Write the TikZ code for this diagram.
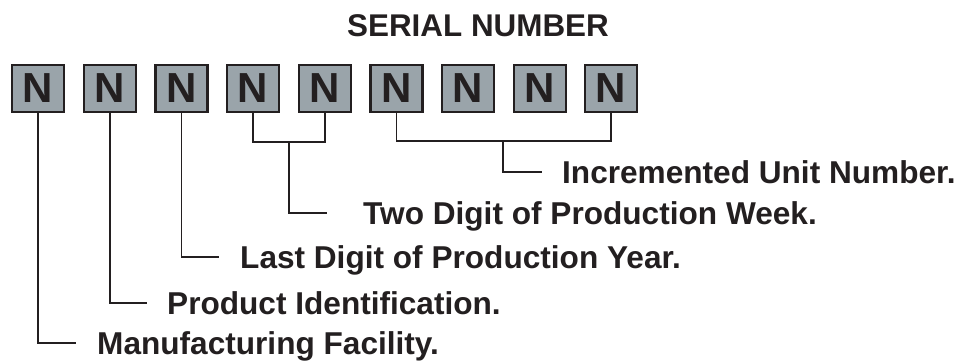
\documentclass[tikz,border=0pt]{standalone}
\usepackage{fontspec}
\setmainfont{Liberation Sans}
\definecolor{ink}{HTML}{231F20}
\definecolor{boxgray}{HTML}{9AA4AA}
\begin{document}
\begin{tikzpicture}[x=1pt,y=-1pt,
  digit/.style={draw=ink,fill=boxgray,line width=2.4pt,minimum width=52pt,minimum height=47pt,inner sep=0pt,
    font=\fontsize{42}{42}\selectfont\bfseries,text=ink},
  lbl/.style={anchor=base west,inner sep=0pt,font=\fontsize{31.6}{31.6}\selectfont\bfseries,text=ink},
  conn/.style={draw=ink,line width=1.4pt}]
\useasboundingbox (0,0) rectangle (965,362);
\node[anchor=base,inner sep=0pt,font=\fontsize{31.4}{31.4}\selectfont\bfseries,text=ink] (title) at (478,36) {SERIAL NUMBER};
\foreach \i/\x in {1/38,2/110,3/181.5,4/253,5/325,6/396.5,7/468,8/540,9/611}{
  \node[digit] (b\i) at (\x,88.5) {N};
}
\node[lbl] (t1) at (97,354) {Manufacturing Facility.};
\node[lbl] (t2) at (167,314) {Product Identification.};
\node[lbl] (t3) at (240,268) {Last Digit of Production Year.};
\node[lbl] (t4) at (363,224) {Two Digit of Production Week.};
\node[lbl] (t5) at (562,183) {Incremented Unit Number.};
\coordinate (e1) at (76,343);
\coordinate (e2) at (147,303);
\coordinate (e3) at (219,257);
\coordinate (e4) at (327,213);
\coordinate (e5) at (542,172);
\coordinate (j4) at (289,142);
\coordinate (j5) at (503,141);
\draw[conn] (b1.south) |- (e1);
\draw[conn] (b2.south) |- (e2);
\draw[conn] (b3.south) |- (e3);
\draw[conn] (b4.south) |- (j4) -| (b5.south);
\draw[conn] (j4) |- (e4);
\draw[conn] (b6.south) |- (j5) -| (b9.south);
\draw[conn] (j5) |- (e5);
\end{tikzpicture}
\end{document}
